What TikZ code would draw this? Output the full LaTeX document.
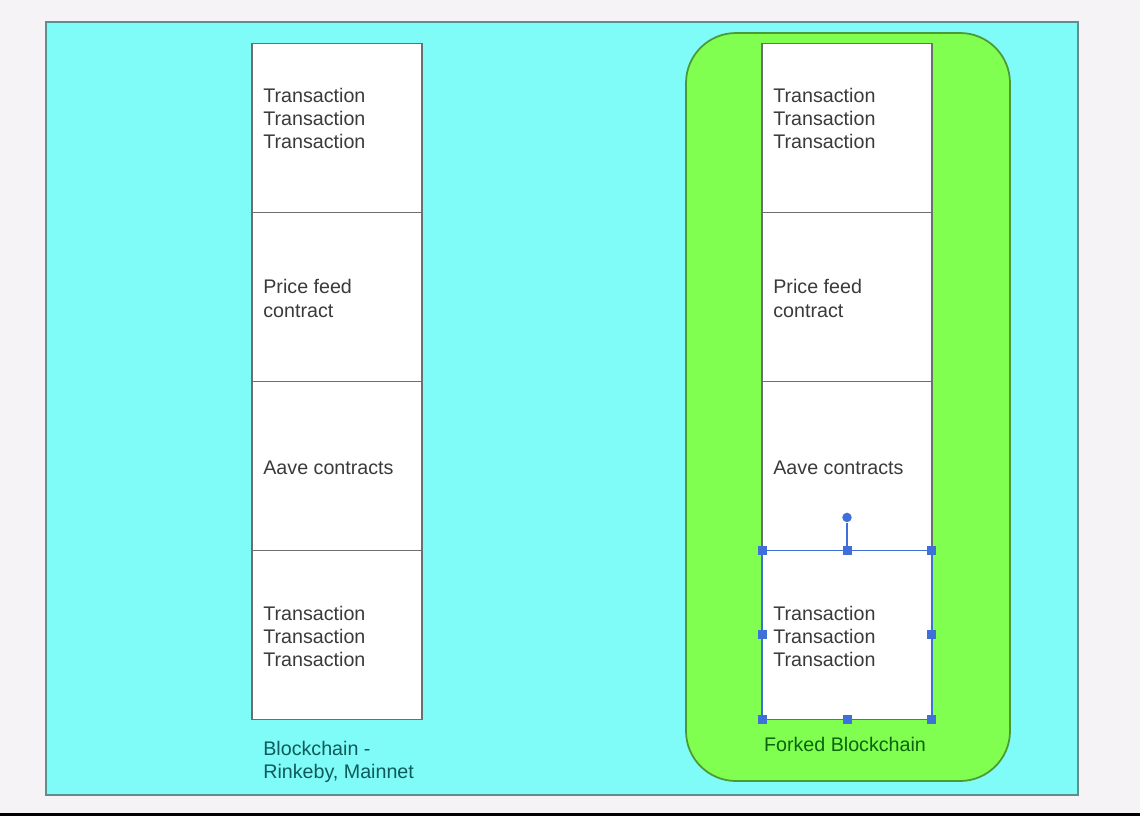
\documentclass[tikz,border=0pt]{standalone}
\usepackage{fontspec}
\setmainfont{Liberation Sans}
\usepackage{xcolor}
\usetikzlibrary{positioning}
\definecolor{pageGray}{HTML}{F5F3F5}
\definecolor{chainCyan}{HTML}{80FCF8}
\definecolor{chainEdge}{HTML}{5E8E8E}
\definecolor{forkGreen}{HTML}{80FF50}
\definecolor{forkEdge}{HTML}{4C9A34}
\definecolor{blockGray}{HTML}{6E6E6E}
\definecolor{txtGray}{HTML}{3A3A3A}
\definecolor{selBlue}{HTML}{3F6FD8}
\definecolor{lblTeal}{HTML}{0E5A5C}
\definecolor{lblGreen}{HTML}{0C6410}
\tikzstyle{block}=[rectangle, draw=blockGray, fill=white, line width=0.8pt, minimum width=3.4cm, minimum height=3.38cm, inner sep=0pt, outer sep=0pt]
\tikzstyle{blocktext}=[anchor=west, align=left, inner sep=0pt, text=txtGray, font=\fontsize{11.2}{13.3}\selectfont]
\tikzstyle{handle}=[rectangle, fill=selBlue, minimum size=0.18cm, inner sep=0pt]

\begin{document}
\begin{tikzpicture}[x=0.02cm, y=-0.02cm]
        \fill[pageGray] (0,0) rectangle (1140,816);
        \fill[black] (0,813) rectangle (1140,816);
        \draw[chainEdge, fill=chainCyan, line width=1pt] (46,22) rectangle (1078,795);
        \draw[forkEdge, fill=forkGreen, line width=1pt, rounded corners=1cm] (686,33) rectangle (1010,781);
        % left chain
        \node[block] (l1) at (337,128) {};
        \node[block] (l2) [below = 0pt of l1] {};
        \node[block] (l3) [below = 0pt of l2] {};
        \node[block] (l4) [below = 0pt of l3] {};
        % forked chain
        \node[block] (r1) at (847,128) {};
        \node[block] (r2) [below = 0pt of r1] {};
        \node[block] (r3) [below = 0pt of r2] {};
        \node[block] (r4) [below = 0pt of r3] {};
        \node[blocktext] (l1t) at ([xshift=0.22cm, yshift=0.19cm]l1.west) {Transaction\\Transaction\\Transaction};
        \node[blocktext] (l2t) at ([xshift=0.22cm, yshift=-0.03cm]l2.west) {Price feed\\contract};
        \node[blocktext] (l3t) at ([xshift=0.22cm, yshift=-0.04cm]l3.west) {Aave contracts};
        \node[blocktext] (l4t) at ([xshift=0.22cm, yshift=-0.03cm]l4.west) {Transaction\\Transaction\\Transaction};
        \node[blocktext] (r1t) at ([xshift=0.22cm, yshift=0.19cm]r1.west) {Transaction\\Transaction\\Transaction};
        \node[blocktext] (r2t) at ([xshift=0.22cm, yshift=-0.03cm]r2.west) {Price feed\\contract};
        \node[blocktext] (r3t) at ([xshift=0.22cm, yshift=-0.04cm]r3.west) {Aave contracts};
        \node[blocktext] (r4t) at ([xshift=0.22cm, yshift=-0.03cm]r4.west) {Transaction\\Transaction\\Transaction};
        \node[blocktext, text=lblTeal] (leftlbl) at (263,762) {Blockchain -\\Rinkeby, Mainnet};
        \node[blocktext, text=lblGreen, anchor=center] (forklbl) at (845,744) {Forked Blockchain};
        % selection on the last forked block
        \draw[selBlue, line width=0.7pt] (r4.north west) rectangle (r4.south east);
        \foreach \a [count=\i] in {north west,north,north east,east,south east,south,south west,west}
            \node[handle] (h\i) at (r4.\a) {};
        \node[circle, fill=selBlue, minimum size=0.19cm, inner sep=0pt] (rot) at ([yshift=0.66cm]r4.north) {};
        \draw[selBlue, line width=0.7pt] (rot) -- (h2);
\end{tikzpicture}
\end{document}
